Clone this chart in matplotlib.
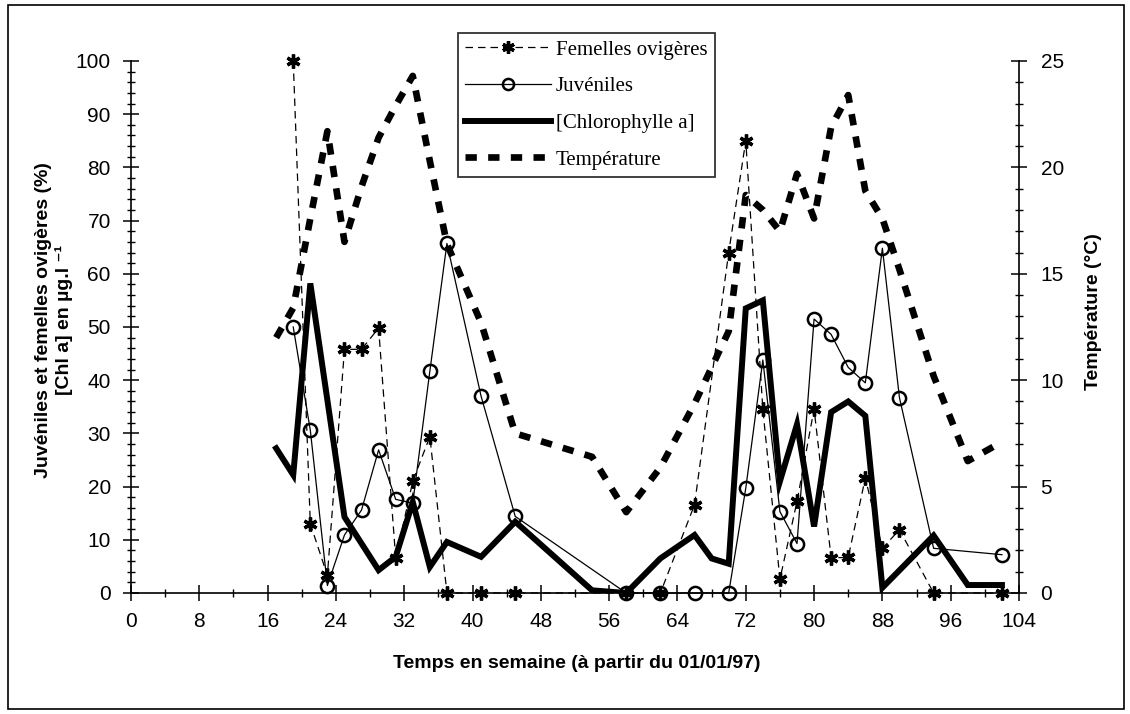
import matplotlib
matplotlib.use('Agg')
import matplotlib.pyplot as plt
from matplotlib.lines import Line2D
from matplotlib.patches import Rectangle
from matplotlib.ticker import MultipleLocator

plt.rcParams['font.family'] = ['Liberation Sans', 'DejaVu Sans']

# ---------------- data ----------------
weeks_fem = [19, 21, 23, 25, 27, 29, 31, 33, 35, 37, 41, 45, 58, 62, 66, 70, 72, 74,
             76, 78, 80, 82, 84, 86, 88, 90, 94, 102]
femelles = [100, 13, 3.3, 45.8, 45.8, 49.8, 6.5, 21, 29.4, 0, 0, 0, 0, 0, 16.6, 64, 85,
            34.5, 2.6, 17.2, 34.6, 6.6, 6.7, 21.6, 8.4, 11.9, 0, 0]

weeks_juv = [19, 21, 23, 25, 27, 29, 31, 33, 35, 37, 41, 45, 58, 62, 66, 70, 72, 74,
             76, 78, 80, 82, 84, 86, 88, 90, 94, 102]
juveniles = [50, 30.6, 1.4, 10.9, 15.6, 26.9, 17.6, 16.9, 41.7, 65.7, 37, 14.4, 0, 0, 0, 0,
             19.7, 43.8, 15.3, 9.3, 51.5, 48.6, 42.4, 39.5, 64.8, 36.7, 8.4, 7.2]

weeks_chl = [17, 19, 21, 25, 29, 31, 33, 35, 37, 41, 45, 54, 58, 62, 66, 68, 70, 72, 74,
             76, 78, 80, 82, 84, 86, 88, 94, 98, 102]
chlorophylle = [27.2, 22.2, 58.2, 14.3, 4.3, 6.8, 17.1, 4.9, 9.6, 6.8, 13.4, 0.5, 0, 6.5,
                10.9, 6.5, 5.5, 53.5, 55, 21, 31.7, 12.5, 34, 36, 33.3, 1, 10.8, 1.5, 1.5]

weeks_temp = [17, 19, 21, 23, 25, 27, 29, 31, 33, 35, 37, 41, 45, 54, 58, 62, 66, 70, 72,
              74, 76, 78, 80, 82, 84, 86, 88, 90, 94, 98, 102]
temperature = [12.0, 13.4, 17.6, 21.7, 16.5, 19.1, 21.4, 22.9, 24.3, 20.3, 16.4, 12.7, 7.5,
               6.4, 3.8, 5.9, 8.9, 12.3, 18.7, 18.0, 17.0, 19.7, 17.6, 21.9, 23.4, 18.9,
               17.6, 15.2, 10.2, 6.2, 7.1]

x_ticks = list(range(0, 105, 8))

# ---------------- figure ----------------
W, H = 1130, 714
fig = plt.figure(figsize=(W / 100, H / 100), dpi=100)
fig.patch.set_facecolor('white')

left_px, right_px, top_px, bottom_px = 131, 1019, 61, 593
ax = fig.add_axes([left_px / W, 1 - bottom_px / H,
                   (right_px - left_px) / W, (bottom_px - top_px) / H])
ax2 = ax.twinx()

# outer border
fig.patches.append(Rectangle((8 / W, 5 / H), (1124 - 8) / W, (709 - 5) / H,
                             transform=fig.transFigure, fill=False,
                             edgecolor='black', linewidth=1.2))

# series
ax.plot(weeks_chl, chlorophylle, color='black', lw=4.3, solid_joinstyle='miter',
        zorder=3)
ax.plot(weeks_juv, juveniles, color='black', lw=0.9, marker='o', ms=9.5,
        mfc='none', mec='black', mew=1.8, zorder=4, clip_on=False)
ax.plot(weeks_fem, femelles, color='black', lw=0.9, ls=(0, (6, 4)),
        marker=(6, 2, 0), ms=10, mew=2.4, zorder=5, clip_on=False)
ax2.plot(weeks_temp, temperature, color='black', lw=4.8, ls=(0, (1.7, 1.7)),
         dash_capstyle='butt', zorder=2)

# axes settings
ax.set_xlim(0, 104)
ax.set_ylim(0, 100)
ax2.set_ylim(0, 25)
ax.set_xticks(x_ticks)
ax.set_xticklabels([str(v) for v in x_ticks])
ax.xaxis.set_minor_locator(MultipleLocator(4))
ax.yaxis.set_major_locator(MultipleLocator(10))
ax.yaxis.set_minor_locator(MultipleLocator(2))
ax2.yaxis.set_major_locator(MultipleLocator(5))
ax2.yaxis.set_minor_locator(MultipleLocator(1))

for a in (ax, ax2):
    a.patch.set_visible(False)
    a.spines['top'].set_visible(False)
    for s in a.spines.values():
        s.set_linewidth(1.2)
ax.spines['right'].set_visible(False)
ax2.spines['left'].set_visible(False)
ax2.spines['bottom'].set_visible(False)

ax.tick_params(axis='x', which='major', direction='inout', length=11, width=1.1,
               labelsize=15, pad=8)
ax.tick_params(axis='x', which='minor', direction='inout', length=6, width=1)
ax.tick_params(axis='y', which='major', direction='inout', length=11, width=1.1,
               labelsize=15, pad=9)
ax.tick_params(axis='y', which='minor', direction='inout', length=6, width=1)
ax2.tick_params(axis='y', which='major', direction='inout', length=11, width=1.1,
                labelsize=15, pad=10)
ax2.tick_params(axis='y', which='minor', direction='inout', length=6, width=1)

# axis titles
fig.text(54 / W, 1 - 320 / H,
         'Juvéniles et femelles ovigères (%)\n[Chl a] en µg.l ⁻¹',
         rotation=90, ha='center', va='center', multialignment='center',
         fontsize=14, fontweight='bold', linespacing=1.3)
fig.text(1094 / W, 1 - 312 / H, 'Température (°C)', rotation=90,
         ha='center', va='center', fontsize=14, fontweight='bold')
fig.text(577 / W, 1 - 664 / H, 'Temps en semaine (à partir du 01/01/97)',
         ha='center', va='center', fontsize=14, fontweight='bold')

# legend
handles = [
    Line2D([], [], color='black', lw=0.9, ls=(0, (6, 4)), marker=(6, 2, 0), ms=9, mew=2.4),
    Line2D([], [], color='black', lw=0.9, marker='o', ms=8, mfc='none', mew=1.8),
    Line2D([], [], color='black', lw=4.3),
    Line2D([], [], color='black', lw=4.8, ls=(0, (1.7, 1.7)), dash_capstyle='butt'),
]
labels = ['Femelles ovigères', 'Juvéniles', '[Chlorophylle a]', 'Température']
leg = fig.legend(handles, labels, loc='lower left',
                 bbox_to_anchor=(458 / W, 1 - 177 / H), bbox_transform=fig.transFigure,
                 prop={'family': ['Liberation Serif', 'DejaVu Serif'], 'size': 15},
                 handlelength=4.1, handletextpad=0.25, labelspacing=0.82,
                 borderpad=0.35, numpoints=1, fancybox=False, frameon=True,
                 borderaxespad=0)
leg.get_frame().set_edgecolor('black')
leg.get_frame().set_linewidth(1.3)

fig.savefig('out.png', dpi=100, facecolor='white')
